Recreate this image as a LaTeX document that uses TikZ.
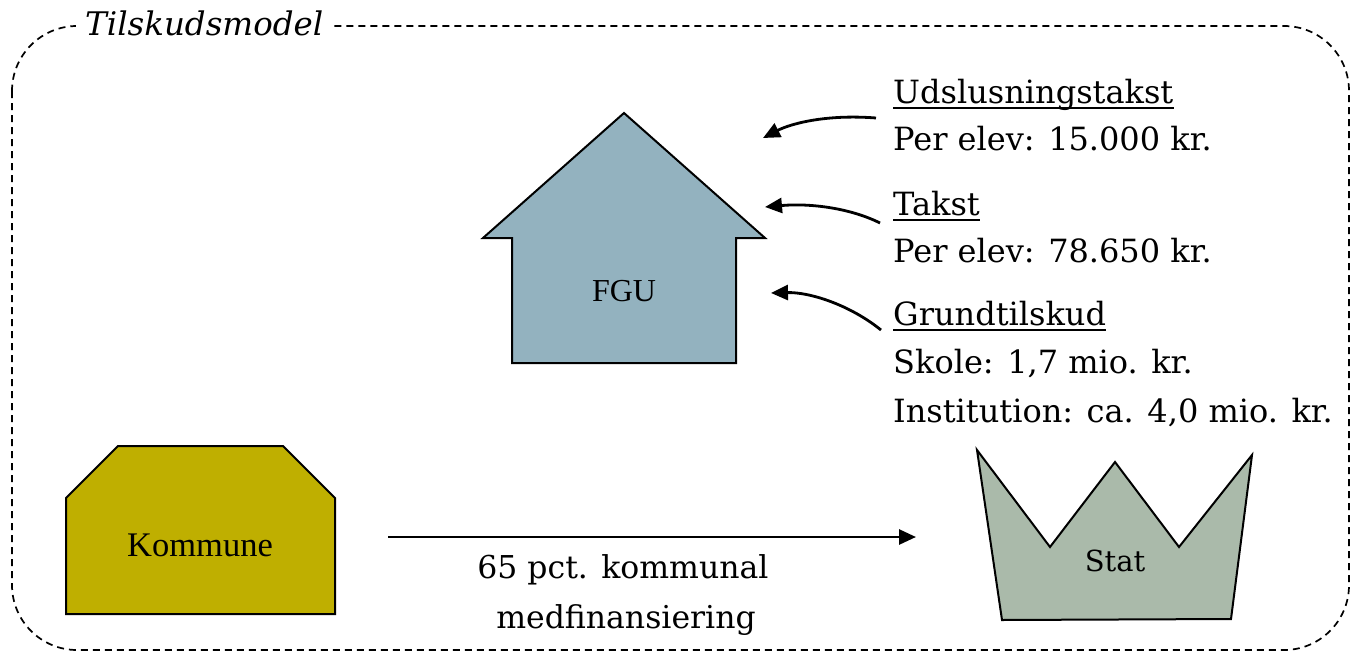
\documentclass[tikz,border=0pt]{standalone}
\usepackage{fontspec}
\setmainfont{DejaVu Serif}
\newfontfamily\timesfont{Liberation Serif}
\usetikzlibrary{arrows.meta}
\definecolor{fgublaa}{RGB}{147,178,191}
\definecolor{komgul}{RGB}{191,175,0}
\definecolor{statgroen}{RGB}{170,186,170}

\begin{document}
\begin{tikzpicture}[x=1pt,y=-1pt,
  txt/.style={anchor=base west,inner sep=0pt,font=\fontsize{32}{38}\selectfont},
  lbl/.style={anchor=base,inner sep=0pt,font=\fontsize{31.5}{37}\selectfont},
  pil/.style={line width=2.8pt,-{Triangle[length=17pt,width=15pt]}},
  form/.style={draw=black,line width=2pt,line join=miter}]
\useasboundingbox (0,0) rectangle (1351,653);
% ramme
\draw[line width=1.7pt,dash pattern=on 7pt off 5pt,rounded corners=65pt] (12,26) rectangle (1349,650);
\node[anchor=base west,fill=white,inner xsep=9pt,inner ysep=4pt,font=\itshape\fontsize{32.5}{38}\selectfont] (titel) at (76,35) {Tilskudsmodel};
% FGU
\draw[form,fill=fgublaa] (624,113) -- (765,238) -- (736,238) -- (736,363) -- (512,363) -- (512,238) -- (483,238) -- cycle;
\node[font=\timesfont\fontsize{32}{38}\selectfont] (fgu) at (624,291) {FGU};
% Kommune
\draw[form,fill=komgul] (118,446) -- (283,446) -- (335,498) -- (335,614) -- (66,614) -- (66,498) -- cycle;
\node[font=\timesfont\fontsize{34.5}{40}\selectfont] (kommune) at (200,545) {Kommune};
% Stat
\draw[form,fill=statgroen] (977,450) -- (1050,547) -- (1115,462) -- (1179,547) -- (1252,455) -- (1231,619) -- (1002,620) -- cycle;
\node[font=\fontsize{29}{34}\selectfont] (stat) at (1115,561) {Stat};
% tilskud
\node[txt] (udsl) at (893,103) {Udslusningstakst};
\node[txt] (udslval) at (893,150) {Per elev: 15.000 kr.};
\node[txt] (takst) at (893,215) {Takst};
\node[txt] (takstval) at (893,262) {Per elev: 78.650 kr.};
\node[txt] (grund) at (893,325) {Grundtilskud\ };
\node[txt] (skole) at (893,373) {Skole: 1,7 mio. kr.};
\node[txt] (inst) at (893,422) {Institution: ca. 4,0 mio. kr.};
\foreach \n in {udsl,takst,grund}
  \draw[line width=1.5pt] ([yshift=-5pt]\n.base west) -- ([yshift=-5pt]\n.base east);
% pile
\coordinate (u1) at (876,118);
\coordinate (u2) at (880,223);
\coordinate (u3) at (881,330);
\coordinate (h1) at (763,138);
\coordinate (h2) at (765,207);
\coordinate (h3) at (771,293);
\draw[pil] (u1) .. controls (825,114) and (790,124) .. (h1);
\draw[pil] (u2) .. controls (850,208) and (810,203) .. (h2);
\draw[pil] (u3) .. controls (850,305) and (810,292) .. (h3);
\coordinate (kom-ud) at (388,537);
\coordinate (stat-ind) at (916,537);
\draw[pil] (kom-ud) -- (stat-ind);
\node[lbl] (medfin1) at (623,578) {65 pct. kommunal};
\node[lbl] (medfin2) at (626,628) {medfinansiering};
\end{tikzpicture}
\end{document}
